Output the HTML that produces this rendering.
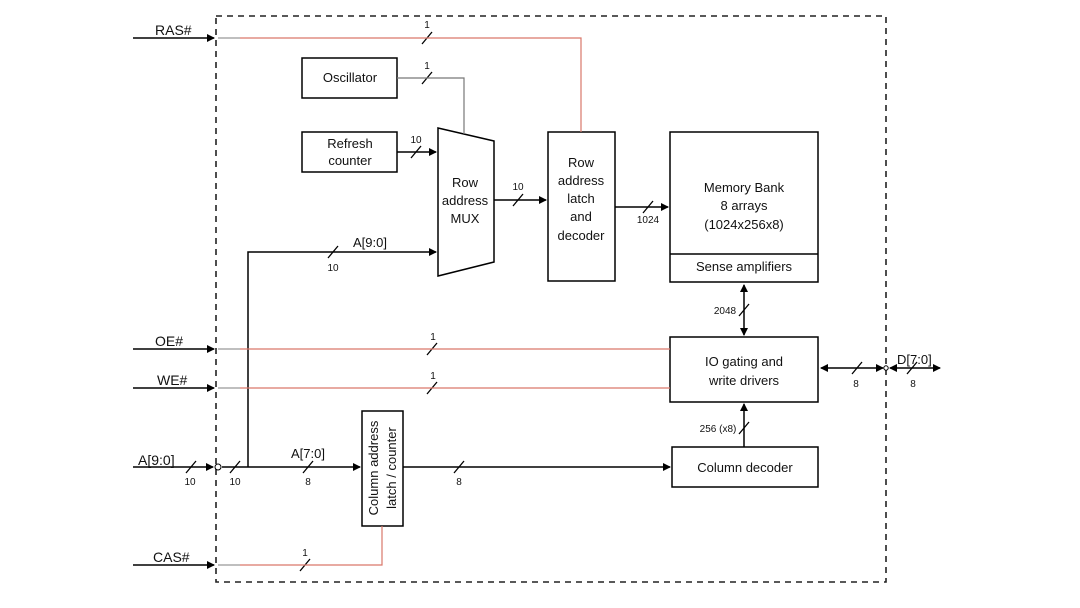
<!DOCTYPE html>
<html><head><meta charset="utf-8"><style>
html,body{margin:0;padding:0;background:#fff;width:1080px;height:608px;overflow:hidden}
text{font-family:"Liberation Sans","DejaVu Sans",sans-serif;fill:#111}
</style></head><body>
<svg width="1080" height="608" viewBox="0 0 1080 608" xmlns="http://www.w3.org/2000/svg">
<defs>
<marker id="a" markerWidth="8" markerHeight="8" refX="7" refY="4" orient="auto" markerUnits="userSpaceOnUse"><path d="M0,0 L8,4 L0,8 z" fill="#000"/></marker>
<marker id="s" markerWidth="8" markerHeight="8" refX="1" refY="4" orient="auto" markerUnits="userSpaceOnUse"><path d="M8,0 L0,4 L8,8 z" fill="#000"/></marker>
</defs>
<rect x="216" y="16" width="670" height="566" fill="none" stroke="#222" stroke-width="1.6" stroke-dasharray="6,5"/>
<g fill="none" stroke="#000" stroke-width="1.5">
<rect x="302" y="58" width="95" height="40"/>
<rect x="302" y="132" width="95" height="40"/>
<path d="M438,128 L494,141 L494,262 L438,276 Z"/>
<rect x="548" y="132" width="67" height="149"/>
<rect x="670" y="132" width="148" height="150"/>
<line x1="670" y1="254" x2="818" y2="254"/>
<rect x="670" y="337" width="148" height="65"/>
<rect x="672" y="447" width="146" height="40"/>
<rect x="362" y="411" width="41" height="115"/>
<line x1="133" y1="38" x2="214" y2="38" marker-end="url(#a)"/>
<line x1="133" y1="349" x2="214" y2="349" marker-end="url(#a)"/>
<line x1="133" y1="388" x2="214" y2="388" marker-end="url(#a)"/>
<line x1="133" y1="565" x2="214" y2="565" marker-end="url(#a)"/>
<line x1="133" y1="467" x2="213" y2="467" marker-end="url(#a)"/>
<line x1="222" y1="467" x2="360" y2="467" marker-end="url(#a)"/>
<polyline points="248,467 248,252 436,252" marker-end="url(#a)"/>
<line x1="397" y1="152" x2="436" y2="152" marker-end="url(#a)"/>
<line x1="494" y1="200" x2="546" y2="200" marker-end="url(#a)"/>
<line x1="615" y1="207" x2="668" y2="207" marker-end="url(#a)"/>
<line x1="403" y1="467" x2="670" y2="467" marker-end="url(#a)"/>
<line x1="744" y1="285" x2="744" y2="335" marker-start="url(#s)" marker-end="url(#a)"/>
<line x1="744" y1="447" x2="744" y2="404" marker-end="url(#a)"/>
<line x1="821" y1="368" x2="883" y2="368" marker-start="url(#s)" marker-end="url(#a)"/>
<line x1="890" y1="368" x2="940" y2="368" marker-start="url(#s)" marker-end="url(#a)"/>
<g stroke-width="1.3">
<line x1="422" y1="44" x2="432" y2="32"/>
<line x1="422" y1="84" x2="432" y2="72"/>
<line x1="411" y1="158" x2="421" y2="146"/>
<line x1="513" y1="206" x2="523" y2="194"/>
<line x1="643" y1="213" x2="653" y2="201"/>
<line x1="328" y1="258" x2="338" y2="246"/>
<line x1="427" y1="355" x2="437" y2="343"/>
<line x1="427" y1="394" x2="437" y2="382"/>
<line x1="186" y1="473" x2="196" y2="461"/>
<line x1="230" y1="473" x2="240" y2="461"/>
<line x1="303" y1="473" x2="313" y2="461"/>
<line x1="454" y1="473" x2="464" y2="461"/>
<line x1="300" y1="571" x2="310" y2="559"/>
<line x1="739" y1="316" x2="749" y2="304"/>
<line x1="739" y1="434" x2="749" y2="422"/>
<line x1="852" y1="374" x2="862" y2="362"/>
<line x1="907" y1="374" x2="917" y2="362"/>
</g>
</g>
<g fill="none" stroke-width="1.2">
<line x1="218" y1="38" x2="240" y2="38" stroke="#999"/>
<polyline points="240,38 581,38 581,132" stroke="#d9776a"/>
<polyline points="397,78 464,78 464,134" stroke="#777"/>
<line x1="218" y1="349" x2="240" y2="349" stroke="#999"/>
<line x1="240" y1="349" x2="670" y2="349" stroke="#d9776a"/>
<line x1="218" y1="388" x2="240" y2="388" stroke="#999"/>
<line x1="240" y1="388" x2="670" y2="388" stroke="#d9776a"/>
<line x1="218" y1="565" x2="240" y2="565" stroke="#999"/>
<polyline points="240,565 382,565 382,526" stroke="#d9776a"/>
</g>
<circle cx="218" cy="467" r="3" fill="#fff" stroke="#000" stroke-width="1"/>
<circle cx="886" cy="368" r="2.2" fill="#fff" stroke="#000" stroke-width="1"/>
<g font-size="14">
<text x="155" y="35">RAS#</text>
<text x="155" y="346">OE#</text>
<text x="157" y="385">WE#</text>
<text x="138" y="465">A[9:0]</text>
<text x="153" y="562">CAS#</text>
<text x="897" y="364" font-size="13">D[7:0]</text>
</g>
<g font-size="13" text-anchor="middle">
<text x="350" y="82">Oscillator</text>
<text x="350" y="148">Refresh</text>
<text x="350" y="165">counter</text>
<text x="465" y="187">Row</text>
<text x="465" y="205">address</text>
<text x="465" y="223">MUX</text>
<text x="581" y="167">Row</text>
<text x="581" y="185">address</text>
<text x="581" y="203">latch</text>
<text x="581" y="221">and</text>
<text x="581" y="240">decoder</text>
<text x="744" y="192">Memory Bank</text>
<text x="744" y="210">8 arrays</text>
<text x="744" y="229">(1024x256x8)</text>
<text x="744" y="271">Sense amplifiers</text>
<text x="744" y="366">IO gating and</text>
<text x="744" y="385">write drivers</text>
<text x="745" y="472">Column decoder</text>
<text x="370" y="247">A[9:0]</text>
<text x="308" y="458">A[7:0]</text>
<text transform="translate(378,468) rotate(-90)" font-size="13">
<tspan x="0" y="0">Column address</tspan><tspan x="0" y="18">latch / counter</tspan></text>
</g>
<g font-size="10" text-anchor="middle">
<text x="427" y="28">1</text>
<text x="427" y="69">1</text>
<text x="416" y="143">10</text>
<text x="518" y="190">10</text>
<text x="648" y="223">1024</text>
<text x="333" y="271">10</text>
<text x="433" y="340">1</text>
<text x="433" y="379">1</text>
<text x="190" y="485">10</text>
<text x="235" y="485">10</text>
<text x="308" y="485">8</text>
<text x="459" y="485">8</text>
<text x="305" y="556">1</text>
<text x="725" y="314">2048</text>
<text x="718" y="432">256 (x8)</text>
<text x="856" y="387">8</text>
<text x="913" y="387">8</text>
</g>
</svg>
</body></html>
